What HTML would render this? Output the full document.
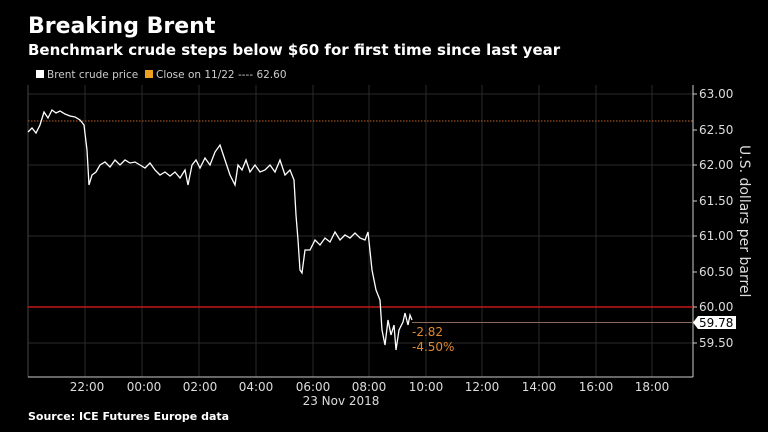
<!DOCTYPE html>
<html><head><meta charset="utf-8"><style>
html,body{margin:0;padding:0;background:#000;width:768px;height:432px;overflow:hidden}
svg{display:block}
text{font-family:"DejaVu Sans","Liberation Sans",sans-serif}
</style></head><body>
<svg width="768" height="432" viewBox="0 0 768 432">
<rect width="768" height="432" fill="#000"/>
<text x="28" y="33" fill="#fff" font-size="22" font-weight="bold">Breaking Brent</text>
<text x="28" y="55" fill="#fff" font-size="15" font-weight="bold">Benchmark crude steps below $60 for first time since last year</text>
<rect x="36" y="70" width="8" height="8" fill="#fff"/>
<text x="47" y="78" fill="#ccc" font-size="10.5">Brent crude price</text>
<rect x="145" y="70" width="8" height="8" fill="#f0a020"/>
<text x="156" y="78" fill="#ccc" font-size="10.5">Close on 11/22 ---- 62.60</text>
<g stroke="#2a2a2a" stroke-width="1">
<line x1="85" y1="85" x2="85" y2="377"/><line x1="142" y1="85" x2="142" y2="377"/>
<line x1="199" y1="85" x2="199" y2="377"/><line x1="256" y1="85" x2="256" y2="377"/>
<line x1="313" y1="85" x2="313" y2="377"/><line x1="369" y1="85" x2="369" y2="377"/>
<line x1="426" y1="85" x2="426" y2="377"/><line x1="482" y1="85" x2="482" y2="377"/>
<line x1="539" y1="85" x2="539" y2="377"/><line x1="596" y1="85" x2="596" y2="377"/>
<line x1="652" y1="85" x2="652" y2="377"/>
<line x1="28" y1="94" x2="693" y2="94"/><line x1="28" y1="165" x2="693" y2="165"/>
<line x1="28" y1="236" x2="693" y2="236"/><line x1="28" y1="343" x2="693" y2="343"/>
</g>
<line x1="28" y1="85" x2="28" y2="377" stroke="#444"/>
<line x1="693" y1="85" x2="693" y2="377" stroke="#ccc"/>
<line x1="28" y1="377" x2="693" y2="377" stroke="#ccc"/>
<line x1="28" y1="121" x2="693" y2="121" stroke="#c0642a" stroke-dasharray="1.5,1.5"/>
<line x1="28" y1="307" x2="693" y2="307" stroke="#c01818" stroke-width="1.5"/>
<line x1="412" y1="322.5" x2="693" y2="322.5" stroke="#8a6a5a"/>
<polyline fill="none" stroke="#fff" stroke-width="1.3" points="28,132 32,128 36,133 40,125 44,112 48,118 52,110 56,113 60,111 65,114 70,116 75,117 80,120 84,125 87,150 89,185 92,175 96,172 100,165 105,162 110,167 115,160 120,165 125,160 130,163 135,162 140,165 145,168 150,163 155,170 160,175 165,172 170,176 175,172 180,178 185,170 188,185 192,165 196,160 200,168 205,158 210,165 215,152 220,145 225,160 230,175 235,185 238,165 242,170 246,160 250,172 255,165 260,172 265,170 270,165 275,172 280,160 285,175 290,170 294,180 296,215 298,240 300,270 302,273 305,250 310,250 315,240 320,245 325,238 330,242 335,232 340,240 345,235 350,238 355,233 360,238 365,240 368,232 372,270 376,290 380,300 382,330 385,345 388,320 391,335 394,325 396,350 399,330 403,322 405,313 408,325 410,315 412,320"/>
<text x="412" y="336" fill="#e08a30" font-size="12">-2.82</text>
<text x="412" y="351" fill="#e08a30" font-size="12">-4.50%</text>
<g fill="#ddd" font-size="12">
<text x="699" y="98">63.00</text><text x="699" y="134">62.50</text>
<text x="699" y="169">62.00</text><text x="699" y="205">61.50</text>
<text x="699" y="240">61.00</text><text x="699" y="276">60.50</text>
<text x="699" y="311">60.00</text><text x="699" y="347">59.50</text>
</g>
<g stroke="#ccc"><line x1="693" y1="94" x2="697" y2="94"/><line x1="693" y1="130" x2="697" y2="130"/><line x1="693" y1="165" x2="697" y2="165"/><line x1="693" y1="201" x2="697" y2="201"/><line x1="693" y1="236" x2="697" y2="236"/><line x1="693" y1="272" x2="697" y2="272"/><line x1="693" y1="307" x2="697" y2="307"/><line x1="693" y1="343" x2="697" y2="343"/></g>
<polygon points="693,322.5 698,316 736,316 736,329 698,329" fill="#fff"/>
<text x="699" y="327" fill="#000" font-size="12">59.78</text>
<text transform="translate(740,145) rotate(90)" fill="#ddd" font-size="14">U.S. dollars per barrel</text>
<g fill="#ddd" font-size="12" text-anchor="middle">
<text x="87" y="391">22:00</text><text x="144" y="391">00:00</text><text x="200" y="391">02:00</text>
<text x="256" y="391">04:00</text><text x="313" y="391">06:00</text><text x="369" y="391">08:00</text>
<text x="426" y="391">10:00</text><text x="482" y="391">12:00</text><text x="539" y="391">14:00</text>
<text x="596" y="391">16:00</text><text x="652" y="391">18:00</text>
<text x="341" y="405">23 Nov 2018</text>
</g>
<text x="28" y="420" fill="#fff" font-size="11" font-weight="bold">Source: ICE Futures Europe data</text>
</svg>
</body></html>
